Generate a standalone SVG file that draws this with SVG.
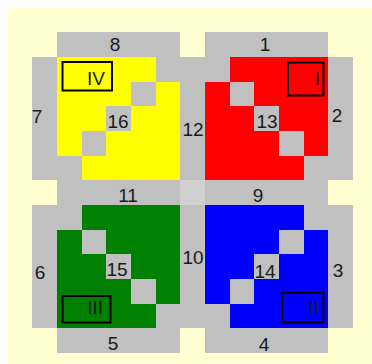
<svg xmlns="http://www.w3.org/2000/svg" width="372" height="364" viewBox="0 0 372 364">
<style>
.g{fill:#c0c0c0}
.c{fill:#d0d0d0}
.t{font-family:"Liberation Sans",Arial,sans-serif;font-size:19px;fill:#1a1a1a;text-anchor:middle}
.r{font-family:"Liberation Sans",Arial,sans-serif;font-size:19px;fill:#1a1a1a;text-anchor:end}
.box{fill:none;stroke:#000;stroke-width:2}
</style>
<rect x="0" y="0" width="372" height="364" fill="#ffffff"/>
<rect x="8" y="8" width="364" height="356" fill="#ffffd2"/>
<g id="cells" transform="translate(32.33 32.33) scale(24.67)" shape-rendering="crispEdges">
  <g id="strips">
    <rect id="s8" class="g" x="1" y="0" width="5" height="1"/>
    <rect id="s1" class="g" x="7" y="0" width="5" height="1"/>
    <rect id="s7" class="g" x="0" y="1" width="1" height="5"/>
    <rect id="s12" class="g" x="6" y="1" width="1" height="5"/>
    <rect id="s2" class="g" x="12" y="1" width="1" height="5"/>
    <rect id="s11" class="g" x="1" y="6" width="5" height="1"/>
    <rect id="center" class="c" x="6" y="6" width="1" height="1"/>
    <rect id="s9" class="g" x="7" y="6" width="5" height="1"/>
    <rect id="s6" class="g" x="0" y="7" width="1" height="5"/>
    <rect id="s10" class="g" x="6" y="7" width="1" height="5"/>
    <rect id="s3" class="g" x="12" y="7" width="1" height="5"/>
    <rect id="s5" class="g" x="1" y="12" width="5" height="1"/>
    <rect id="s4" class="g" x="7" y="12" width="5" height="1"/>
  </g>
  <g id="quadIV">
    <rect x="1" y="1" width="5" height="5" fill="#ffff00"/>
    <rect class="g" x="5" y="1" width="1" height="1"/>
    <rect class="g" x="4" y="2" width="1" height="1"/>
    <rect class="g" x="3" y="3" width="1" height="1"/>
    <rect class="g" x="2" y="4" width="1" height="1"/>
    <rect class="g" x="1" y="5" width="1" height="1"/>
  </g>
  <g id="quadI">
    <rect x="7" y="1" width="5" height="5" fill="#ff0000"/>
    <rect class="g" x="7" y="1" width="1" height="1"/>
    <rect class="g" x="8" y="2" width="1" height="1"/>
    <rect class="g" x="9" y="3" width="1" height="1"/>
    <rect class="g" x="10" y="4" width="1" height="1"/>
    <rect class="g" x="11" y="5" width="1" height="1"/>
  </g>
  <g id="quadIII">
    <rect x="1" y="7" width="5" height="5" fill="#008000"/>
    <rect class="g" x="1" y="7" width="1" height="1"/>
    <rect class="g" x="2" y="8" width="1" height="1"/>
    <rect class="g" x="3" y="9" width="1" height="1"/>
    <rect class="g" x="4" y="10" width="1" height="1"/>
    <rect class="g" x="5" y="11" width="1" height="1"/>
  </g>
  <g id="quadII">
    <rect x="7" y="7" width="5" height="5" fill="#0000ff"/>
    <rect class="g" x="11" y="7" width="1" height="1"/>
    <rect class="g" x="10" y="8" width="1" height="1"/>
    <rect class="g" x="9" y="9" width="1" height="1"/>
    <rect class="g" x="8" y="10" width="1" height="1"/>
    <rect class="g" x="7" y="11" width="1" height="1"/>
  </g>
</g>
<g id="labels">
  <text class="t" x="115" y="51">8</text>
  <text class="t" x="265" y="51">1</text>
  <text class="t" x="37" y="123">7</text>
  <text class="t" x="337" y="122">2</text>
  <text class="t" x="118" y="128">16</text>
  <text class="t" x="267" y="128">13</text>
  <text class="t" x="193" y="136">12</text>
  <text class="t" x="128" y="202">11</text>
  <text class="t" x="258" y="202">9</text>
  <text class="t" x="40" y="279">6</text>
  <text class="t" x="117" y="276">15</text>
  <text class="t" x="193" y="264">10</text>
  <text class="t" x="265" y="278">14</text>
  <text class="t" x="338" y="277">3</text>
  <text class="t" x="113" y="350">5</text>
  <text class="t" x="264" y="351">4</text>
</g>
<g id="boxIV">
  <rect class="box" x="62.5" y="62" width="49.5" height="28.5"/>
  <text class="r" x="105" y="85">IV</text>
</g>
<g id="boxI">
  <rect class="box" x="288" y="62.5" width="35.5" height="33"/>
  <text class="r" x="320" y="85">I</text>
</g>
<g id="boxIII">
  <rect class="box" x="62.5" y="296" width="48" height="26.5"/>
  <text class="r" x="103" y="314">III</text>
</g>
<g id="boxII">
  <rect class="box" x="282" y="292.5" width="41.5" height="30"/>
  <text class="r" x="319" y="314">II</text>
</g>
</svg>
